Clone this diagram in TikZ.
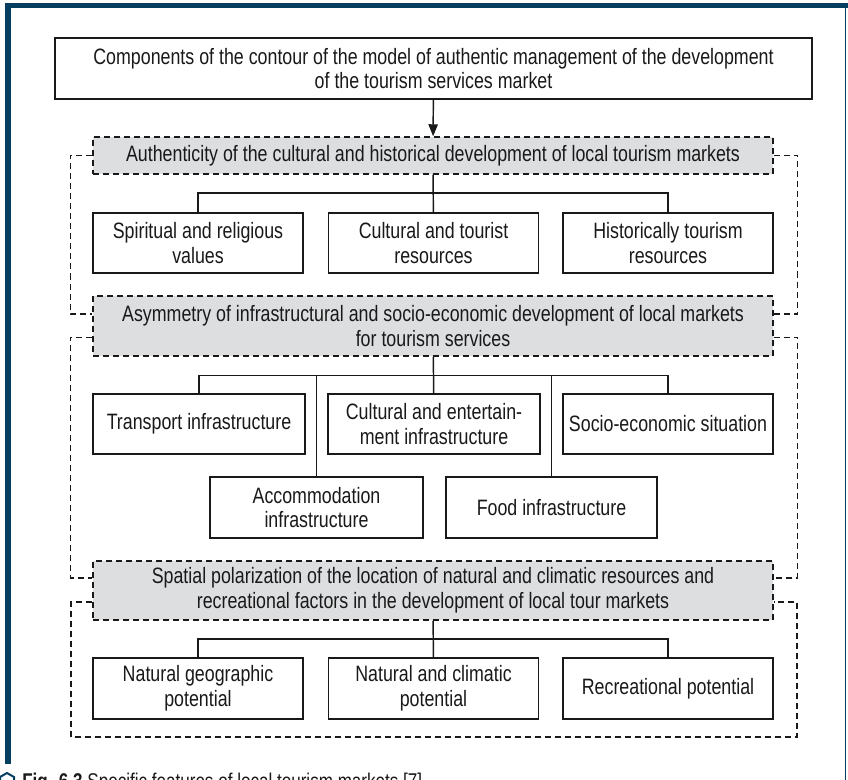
\documentclass[tikz,border=0pt]{standalone}
\usepackage{fontspec}
\setmainfont{Liberation Sans}[FakeStretch=0.8]
\usetikzlibrary{arrows.meta}
\definecolor{framecol}{RGB}{6,62,95}
\definecolor{headfill}{RGB}{221,222,224}
\definecolor{inkcol}{RGB}{25,25,25}

\begin{document}
\begin{tikzpicture}[x=0.75pt, y=-0.75pt, font=\fontsize{16.7}{18.5}\selectfont, text=inkcol,
    box/.style={draw=inkcol, line width=1.1pt, fill=white, align=center, inner sep=2pt,
                minimum width=157.5pt, minimum height=45pt},
    head/.style={draw=inkcol, line width=1.1pt, dash pattern=on 4.5pt off 3pt, fill=headfill,
                 align=center, inner sep=2pt, minimum width=510pt},
    link/.style={draw=inkcol, line width=1.1pt},
    dashline/.style={draw=inkcol, line width=1.1pt, dash pattern=on 4.5pt off 3pt}]
    \useasboundingbox (0,0) rectangle (848,780);

    % frame
    \fill[framecol] (5,3) rectangle (848,8);
    \fill[framecol] (5,3) rectangle (11,764);
    \draw[framecol, line width=1pt] (845.5,3) -- (845.5,780);

    % top box
    \node[box, minimum width=567.75pt, minimum height=45.75pt] (top) at (433.5,68.5)
        {Components of the contour of the model of authentic management of the development\\ of the tourism services market};

    % first group
    \node[head, minimum height=27.75pt] (g1) at (433,155.5)
        {Authenticity of the cultural and historical development of local tourism markets};
    \node[box] (sp) at (198,243) {Spiritual and religious\\ values};
    \node[box] (ct) at (433.5,243) {Cultural and tourist\\ resources};
    \node[box] (hi) at (668,243) {Historically tourism\\ resources};

    % second group
    \node[head, minimum height=45pt] (g2) at (433,326)
        {Asymmetry of infrastructural and socio-economic development of local markets\\ for tourism services};
    \node[box, minimum width=159pt] (tr) at (199,424) {Transport infrastructure};
    \node[box, minimum width=159pt] (ce) at (434,424) {Cultural and entertain-\\ ment infrastructure};
    \node[box] (se) at (668,424) {Socio-economic situation};
    \node[box, minimum width=159.75pt, minimum height=45.75pt] (ac) at (316.5,507.5) {Accommodation\\ infrastructure};
    \node[box, minimum width=158.25pt, minimum height=45.75pt] (fo) at (551.5,507.5) {Food infrastructure};

    % third group
    \node[head, minimum height=44.25pt] (g3) at (433,590.5)
        {Spatial polarization of the location of natural and climatic resources and\\ recreational factors in the development of local tour markets};
    \node[box, minimum height=45.75pt] (ng) at (198,688.5) {Natural geographic\\ potential};
    \node[box, minimum height=45.75pt] (nc) at (433.5,688.5) {Natural and climatic\\ potential};
    \node[box, minimum height=45.75pt] (rp) at (668,688.5) {Recreational potential};

    \coordinate (bar1) at (0,193);
    \coordinate (bar2) at (0,375.5);
    \coordinate (bar3) at (0,639);
    \coordinate (bl) at (71,737);
    \coordinate (br) at (797,737);

    % connectors
    \draw[link, -{Triangle[length=9pt, width=7pt]}] (top) -- (g1);

    \draw[link] (g1) -- (ct);
    \draw[link] (sp.north) -- (sp.north |- bar1) -- (hi.north |- bar1) -- (hi.north);

    \draw[link] (g2) -- (ce);
    \draw[link] (tr.north) -- (tr.north |- bar2) -- (se.north |- bar2) -- (se.north);
    \draw[link] (ac.north) -- (ac.north |- bar2);
    \draw[link] (fo.north) -- (fo.north |- bar2);

    \draw[link] (g3) -- (nc);
    \draw[link] (ng.north) -- (ng.north |- bar3) -- (rp.north |- bar3) -- (rp.north);

    % dashed brackets
    \draw[dashline] (g1.west) -- ++(-22,0) |- ([yshift=9pt]g2.west);
    \draw[dashline] (g1.east) -- ++(24,0) |- ([yshift=9pt]g2.east);
    \draw[dashline] ([yshift=-8.5pt]g2.west) -- ++(-22,0) |- ([yshift=9.4pt]g3.west);
    \draw[dashline] ([yshift=-8.5pt]g2.east) -- ++(24,0) |- ([yshift=9.4pt]g3.east);
    \draw[dashline] ([yshift=-8.6pt]g3.west) -| (bl) -- (br) |- ([yshift=-8.6pt]g3.east);

    % caption
    \draw[framecol, line width=1.5pt] (0,777) -- (7,773) -- (14,777) -- (14,786) -- (7,790) -- (0,786) -- cycle;
    \node[anchor=base west, inner sep=0pt, font=\fontsize{16}{18}\selectfont] (cap) at (22,788)
        {\textbf{Fig. 6.3} Specific features of local tourism markets [7]};
\end{tikzpicture}
\end{document}
